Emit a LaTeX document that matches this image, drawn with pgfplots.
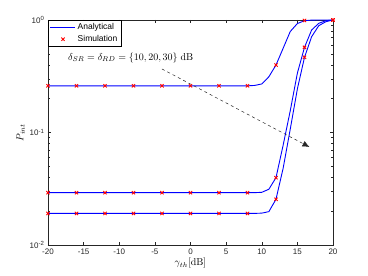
\documentclass[border=0pt]{standalone}
\usepackage[no-math]{fontspec}
\setmainfont{Liberation Sans}
\usepackage{pgfplots}
\pgfplotsset{compat=1.18}
\usetikzlibrary{arrows.meta}
\definecolor{mblue}{RGB}{0,0,255}
\definecolor{mred}{RGB}{255,0,0}
\definecolor{axgray}{RGB}{38,38,38}
\pgfplotsset{
  markleg/.style={legend image code/.code={\draw[##1] plot coordinates {(0.45cm,0cm)};}},
}
\begin{document}
\begin{tikzpicture}
\begin{axis}[
  name=ax,
  scale only axis, width=285pt, height=225pt,
  ymode=log, xmin=-20, xmax=20, ymin=0.01, ymax=1,
  xtick={-20,-15,...,20},
  xticklabels={-20,-15,-10,-5,0,5,10,15,20},
  ytick={0.01,0.1,1},
  yticklabels={10\textsuperscript{-2},10\textsuperscript{-1},10\textsuperscript{0}},
  tick align=inside,
  axis line style={axgray, line width=0.5pt},
  tick style={axgray, line width=0.4pt},
  major tick length=3pt, minor tick length=2pt,
  ticklabel style={font=\fontsize{8}{9}\selectfont, text=axgray},
  xlabel={$\gamma_{th}[\mathrm{dB}]$},
  ylabel={$P_{int}$},
  xlabel style={yshift=3pt},
  ylabel style={yshift=-2pt},
  legend style={at={(0,1)}, anchor=north west,
    font=\fontsize{8.5}{10}\selectfont, inner sep=1.5pt, row sep=0pt},
  legend cell align=left,
]
\addplot[color=mblue, line width=0.9pt, forget plot]
  coordinates {(-20,0.26)(0,0.26)(8,0.26)(9,0.262)(10,0.27)(11,0.313)(12,0.398)(13,0.56)(14,0.79)(15,0.93)(16,0.986)(17,0.998)(18,1)(19,1)(20,1)};
\addlegendimage{legend image code/.code={\draw[mblue, line width=1pt] (0cm,0cm) -- (0.88cm,0cm);}}
\addlegendentry{Analytical}
\addplot[only marks, mark=x, mark size=2.3pt, color=mred, line width=0.9pt, markleg]
  coordinates {(-20,0.26)(-16,0.26)(-12,0.26)(-8,0.26)(-4,0.26)(0,0.26)(4,0.26)(8,0.26)(12,0.398)(16,0.99)(20,1)};
\addlegendentry{Simulation}
\addplot[color=mblue, line width=0.9pt, forget plot]
  coordinates {(-20,0.0292)(0,0.0292)(8,0.0292)(9,0.0292)(10,0.0294)(11,0.0313)(12,0.0397)(13,0.077)(14,0.156)(15,0.337)(16,0.571)(17,0.815)(18,0.934)(19,0.986)(20,1)};
\addplot[color=mblue, line width=0.9pt, forget plot]
  coordinates {(-20,0.0191)(0,0.0191)(8,0.0191)(9,0.0191)(10,0.0192)(11,0.0198)(12,0.0255)(13,0.048)(14,0.107)(15,0.244)(16,0.466)(17,0.71)(18,0.89)(19,0.966)(20,1)};
\addplot[only marks, mark=x, mark size=2.3pt, color=mred, line width=0.9pt, forget plot]
  coordinates {(-20,0.0292)(-16,0.0292)(-12,0.0292)(-8,0.0292)(-4,0.0292)(0,0.0292)(4,0.0292)(8,0.0292)(12,0.0397)(16,0.571)(20,1)};
\addplot[only marks, mark=x, mark size=2.3pt, color=mred, line width=0.9pt, forget plot]
  coordinates {(-20,0.0191)(-16,0.0191)(-12,0.0191)(-8,0.0191)(-4,0.0191)(0,0.0191)(4,0.0191)(8,0.0191)(12,0.0255)(16,0.466)(20,1)};
\node[font=\fontsize{10}{12}\selectfont] at (axis cs:-8.4,0.46) {$\delta_{SR}=\delta_{RD}=\{10,20,30\}\ \mathrm{dB}$};
\draw[dashed, axgray, line width=0.5pt, -{Latex[length=7pt,width=6pt]}] (axis cs:-4,0.367) -- (axis cs:16.7,0.0743);
\end{axis}
\pgfresetboundingbox
\path[use as bounding box] ([shift={(-48pt,-31pt)}]ax.south west) rectangle ([shift={(320pt,245pt)}]ax.south west);
\end{tikzpicture}
\end{document}
